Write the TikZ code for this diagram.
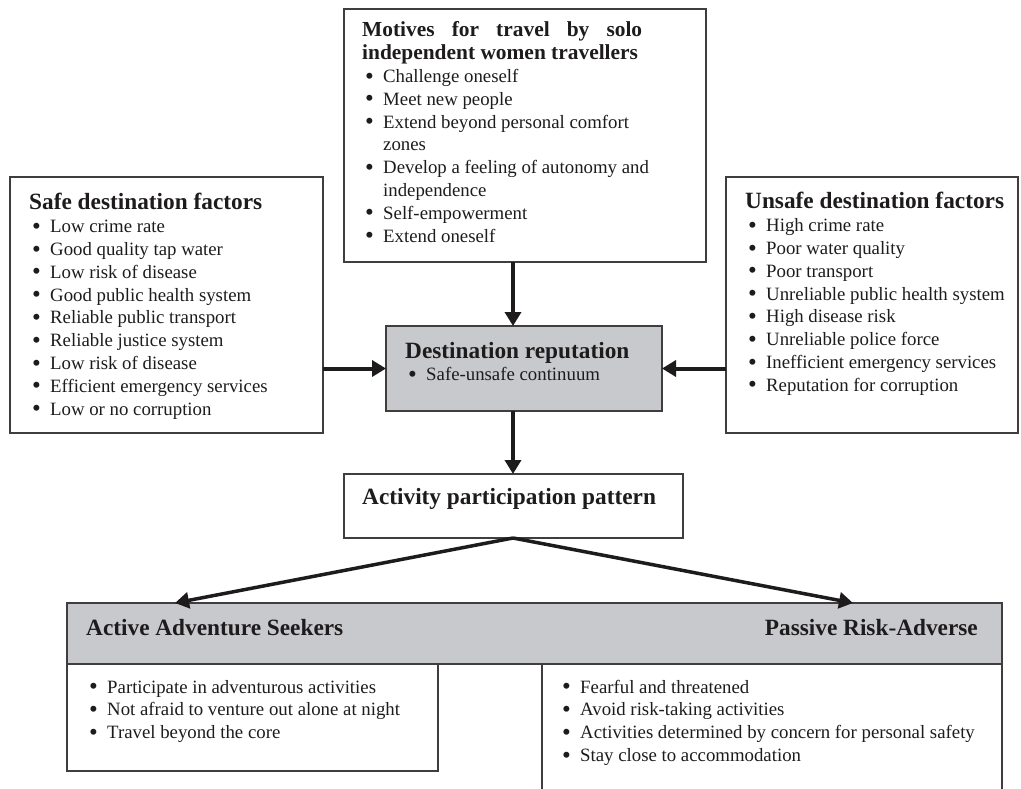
\documentclass[tikz,border=0pt]{standalone}
\usepackage{fontspec}
\setmainfont{Liberation Serif}
\usetikzlibrary{arrows.meta}

\definecolor{boxgray}{RGB}{200,201,204}
\definecolor{ink}{RGB}{30,27,28}

\newcommand\itm[1]{\hspace*{3pt}\makebox[18pt][l]{\raisebox{-1.6pt}{\fontsize{25}{0}\selectfont\textbullet}}#1}
\newcommand\ttl[2][23.3]{{\fontsize{#1}{22.8}\selectfont\bfseries #2}}

\tikzset{%
  >={Triangle[length=14pt,width=16pt]},
  box/.style={draw=ink!85, line width=1.2pt, anchor=north west, inner sep=0pt, outer sep=0pt},
  shaded/.style={box, fill=boxgray},
  txt/.style={anchor=base west, inner sep=0pt, text=ink, font=\fontsize{18.8}{22.8}\selectfont},
  flow/.style={->, line width=4pt, ink}
}

\begin{document}
\begin{tikzpicture}[x=1pt,y=-1pt]
  \useasboundingbox (0,0) rectangle (1021,789);
  \coordinate (spine) at (513,0);

  % boxes
  \node[box, minimum width=362pt, minimum height=253pt] (motives) at (344,9) {};
  \node[box, minimum width=313pt, minimum height=256pt] (safe) at (10,177) {};
  \node[box, minimum width=292pt, minimum height=256pt] (unsafe) at (726,177) {};
  \node[shaded, minimum width=276pt, minimum height=85pt] (rep) at (386,326) {};
  \node[box, minimum width=339pt, minimum height=64pt] (act) at (344,474) {};
  \node[shaded, minimum width=935pt, minimum height=61pt] (head) at (67,603) {};
  \node[box, minimum width=371pt, minimum height=107pt] (advbody) at (67,664) {};
  \node[box, draw=none, minimum width=460pt, minimum height=125pt] (pasbody) at (542,664) {};
  \draw[ink!85, line width=1.2pt] (pasbody.south west) -- (pasbody.north west)
    -- (pasbody.north east) -- (pasbody.south east);

  % texts
  \node[txt] (mottxt) at (362,37) {\begin{tabular}[t]{@{}l@{}}
      \ttl[21.4]{\makebox[280pt][s]{Motives for travel by solo}}\\
      \ttl[21.4]{independent women travellers}\\
      \itm{Challenge oneself}\\
      \itm{Meet new people}\\
      \itm{Extend beyond personal comfort}\\
      \hspace*{21pt}zones\\
      \itm{Develop a feeling of autonomy and}\\
      \hspace*{21pt}independence\\
      \itm{Self-empowerment}\\
      \itm{Extend oneself}
    \end{tabular}};
  \node[txt] (safetxt) at (29,210) {\begin{tabular}[t]{@{}l@{}}
      \ttl{Safe destination factors}\\
      \itm{Low crime rate}\\
      \itm{Good quality tap water}\\
      \itm{Low risk of disease}\\
      \itm{Good public health system}\\
      \itm{Reliable public transport}\\
      \itm{Reliable justice system}\\
      \itm{Low risk of disease}\\
      \itm{Efficient emergency services}\\
      \itm{Low or no corruption}
    \end{tabular}};
  \node[txt] (unsafetxt) at (745,209) {\begin{tabular}[t]{@{}l@{}}
      \ttl{Unsafe destination factors}\\
      \itm{High crime rate}\\
      \itm{Poor water quality}\\
      \itm{Poor transport}\\
      \itm{Unreliable public health system}\\
      \itm{High disease risk}\\
      \itm{Unreliable police force}\\
      \itm{Inefficient emergency services}\\
      \itm{Reputation for corruption}
    \end{tabular}};
  \node[txt] (reptxt) at (405,358) {\begin{tabular}[t]{@{}l@{}}
      \ttl{Destination reputation}\\
      \itm{Safe-unsafe continuum}
    \end{tabular}};
  \node[txt] (acttxt) at (362,504) {\ttl{Activity participation pattern}};
  \node[txt] (advtitle) at (86,635) {\ttl{Active Adventure Seekers}};
  \node[txt, anchor=base east] (pastitle) at (978,635) {\ttl{Passive Risk-Adverse}};
  \node[txt] (advtxt) at (86,693) {\begin{tabular}[t]{@{}l@{}}
      \itm{Participate in adventurous activities}\\
      \itm{Not afraid to venture out alone at night}\\
      \itm{Travel beyond the core}
    \end{tabular}};
  \node[txt] (pastxt) at (559,693) {\begin{tabular}[t]{@{}l@{}}
      \itm{Fearful and threatened}\\
      \itm{Avoid risk-taking activities}\\
      \itm{Activities determined by concern for personal safety}\\
      \itm{Stay close to accommodation}
    \end{tabular}};

  % arrows
  \draw[flow] (motives.south -| spine) -- (rep.north -| spine);
  \draw[flow] (safe.east |- rep.west) -- (rep.west);
  \draw[flow] (unsafe.west |- rep.east) -- (rep.east);
  \draw[flow] (rep.south -| spine) -- (act.north -| spine);
  \coordinate (advtip) at (175,603);
  \coordinate (pastip) at (853,603);
  \draw[flow, line width=3.5pt] (act.south -| spine) -- (advtip);
  \draw[flow, line width=3.5pt] (act.south -| spine) -- (pastip);
\end{tikzpicture}
\end{document}
